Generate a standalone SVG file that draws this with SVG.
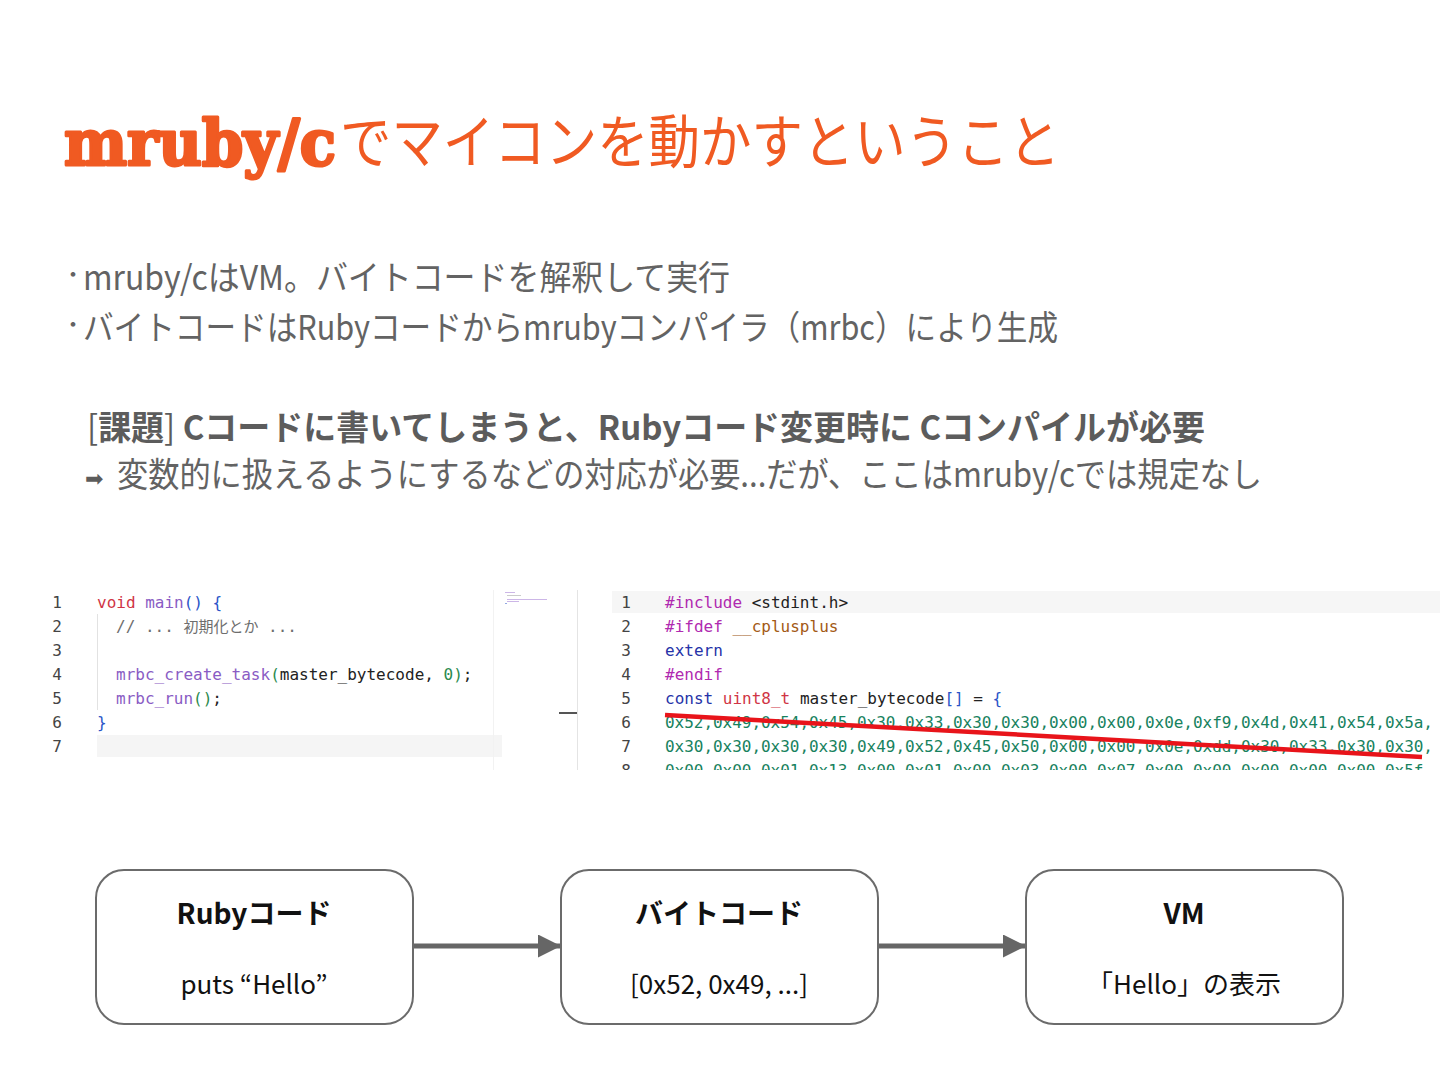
<svg xmlns="http://www.w3.org/2000/svg" width="1440" height="1080" viewBox="0 0 1440 1080">
<defs>
<style>
.jp{font-family:"Noto Sans CJK JP","Noto Sans",sans-serif}
.body{fill:#636363;font-size:34px}
.bul{fill:#636363;font-size:22px;text-anchor:middle}
.mono{font-family:"DejaVu Sans Mono","Liberation Mono",monospace;font-size:16px}
.ln{fill:#444;text-anchor:middle}
.box{fill:#fff;stroke:#6b6b6b;stroke-width:2}
.bt{font-family:"Noto Sans CJK JP","Noto Sans",sans-serif;font-size:28px;font-weight:bold;fill:#111;text-anchor:middle}
.bs{font-family:"Noto Sans CJK JP","Noto Sans",sans-serif;font-size:26px;fill:#111;text-anchor:middle}
.kw{fill:#d03545}.fn{fill:#8a5cc4}.br{fill:#2a55c8}.gr{fill:#2b8a4e}.cm{fill:#6e6e6e}.tx{fill:#222}
.pp{fill:#b02ab0}.mac{fill:#a35a16}.ex{fill:#2633a8}.hex{fill:#17825e}
.conn{stroke:#666;stroke-width:5;fill:none}
</style>
<marker id="ah" viewBox="0 0 10 10" refX="10" refY="5" markerWidth="6.2" markerHeight="4.6" markerUnits="strokeWidth" orient="auto">
<path d="M0,0 L10,5 L0,10 Z" fill="#666"/>
</marker>
<clipPath id="rc"><rect x="600" y="585" width="840" height="185"/></clipPath>
</defs>
<rect width="1440" height="1080" fill="#fff"/>

<g id="title">
<text x="64" y="165" font-family="DejaVu Serif" font-weight="bold" font-size="64" fill="#f05a22" stroke="#f05a22" stroke-width="3" stroke-linejoin="round" textLength="272" lengthAdjust="spacingAndGlyphs">mruby/c</text>
<text x="340" y="163" class="jp" font-size="58" fill="#f05a22" textLength="720" lengthAdjust="spacingAndGlyphs">でマイコンを動かすということ</text>
</g>

<g id="bullets">
<text x="73" y="282" class="jp bul">・</text>
<text x="83" y="290" class="jp body" textLength="647" lengthAdjust="spacingAndGlyphs">mruby/cはVM。バイトコードを解釈して実行</text>
<text x="73" y="332" class="jp bul">・</text>
<text x="83" y="340" class="jp body" textLength="975" lengthAdjust="spacingAndGlyphs">バイトコードはRubyコードからmrubyコンパイラ（mrbc）により生成</text>
<text x="87" y="440" class="jp" font-size="34" fill="#5c5c5c" textLength="1118" lengthAdjust="spacingAndGlyphs"><tspan font-weight="normal">[</tspan><tspan font-weight="bold">課題</tspan><tspan font-weight="normal">] </tspan><tspan font-weight="bold">Cコードに書いてしまうと、Rubyコード変更時に Cコンパイルが必要</tspan></text>
<text x="85" y="486" font-family="DejaVu Sans" font-size="22" fill="#5c5c5c">➡</text>
<text x="117" y="487" class="jp body" textLength="1145" lengthAdjust="spacingAndGlyphs">変数的に扱えるようにするなどの対応が必要...だが、ここはmruby/cでは規定なし</text>
</g>

<g id="code-left">
<rect x="97" y="735" width="405" height="22" fill="#f5f5f5"/>
<line x1="97.5" y1="614" x2="97.5" y2="710" stroke="#e2e2e2" stroke-width="1"/>
<line x1="493.5" y1="590" x2="493.5" y2="770" stroke="#f2f2f2" stroke-width="1"/>
<line x1="577.5" y1="590" x2="577.5" y2="770" stroke="#e4e4e4" stroke-width="1"/>
<rect x="559" y="712" width="18" height="2" fill="#555"/>
<g opacity="0.5">
<rect x="505" y="592" width="10" height="1" fill="#9b6fd0"/>
<rect x="507" y="595" width="14" height="1" fill="#999"/>
<rect x="507" y="599" width="40" height="1" fill="#9b6fd0"/>
<rect x="507" y="601" width="12" height="1" fill="#9b6fd0"/>
<rect x="505" y="603" width="2" height="1" fill="#2a55c8"/>
</g>
<g class="mono">
<text class="ln" x="57" y="608">1</text>
<text class="ln" x="57" y="632">2</text>
<text class="ln" x="57" y="656">3</text>
<text class="ln" x="57" y="680">4</text>
<text class="ln" x="57" y="704">5</text>
<text class="ln" x="57" y="728">6</text>
<text class="ln" x="57" y="752">7</text>
<text x="97" y="608"><tspan class="kw">void</tspan><tspan class="tx"> </tspan><tspan class="fn">main</tspan><tspan class="br">()</tspan><tspan class="tx"> </tspan><tspan class="br">{</tspan></text>
<text x="116" y="632" class="cm">// ... <tspan font-family="Noto Sans CJK JP" font-size="15">初期化とか</tspan> ...</text>
<text x="116" y="680"><tspan class="fn">mrbc_create_task</tspan><tspan class="gr">(</tspan><tspan class="tx">master_bytecode, </tspan><tspan class="gr">0</tspan><tspan class="gr">)</tspan><tspan class="tx">;</tspan></text>
<text x="116" y="704"><tspan class="fn">mrbc_run</tspan><tspan class="gr">()</tspan><tspan class="tx">;</tspan></text>
<text x="97" y="728" class="br">}</text>
</g>
</g>

<g id="code-right">
<rect x="612" y="591" width="828" height="22" fill="#f6f6f6"/>
<g class="mono" clip-path="url(#rc)">
<text class="ln" x="626" y="608">1</text>
<text class="ln" x="626" y="632">2</text>
<text class="ln" x="626" y="656">3</text>
<text class="ln" x="626" y="680">4</text>
<text class="ln" x="626" y="704">5</text>
<text class="ln" x="626" y="728">6</text>
<text class="ln" x="626" y="752">7</text>
<text class="ln" x="626" y="776">8</text>
<text x="665" y="608"><tspan class="pp">#include</tspan><tspan class="tx"> &lt;stdint.h&gt;</tspan></text>
<text x="665" y="632"><tspan class="pp">#ifdef</tspan><tspan class="tx"> </tspan><tspan class="mac">__cplusplus</tspan></text>
<text x="665" y="656" class="ex">extern</text>
<text x="665" y="680" class="pp">#endif</text>
<text x="665" y="704"><tspan class="ex">const</tspan><tspan class="tx"> </tspan><tspan class="kw">uint8_t</tspan><tspan class="tx"> master_bytecode</tspan><tspan class="br">[]</tspan><tspan class="tx"> = </tspan><tspan class="br">{</tspan></text>
<text x="665" y="728" class="hex" textLength="768">0x52,0x49,0x54,0x45,0x30,0x33,0x30,0x30,0x00,0x00,0x0e,0xf9,0x4d,0x41,0x54,0x5a,</text>
<text x="665" y="752" class="hex" textLength="768">0x30,0x30,0x30,0x30,0x49,0x52,0x45,0x50,0x00,0x00,0x0e,0xdd,0x30,0x33,0x30,0x30,</text>
<text x="665" y="776" class="hex" textLength="768">0x00,0x00,0x01,0x13,0x00,0x01,0x00,0x03,0x00,0x07,0x00,0x00,0x00,0x00,0x00,0x5f,</text>
</g>
<line x1="665" y1="715" x2="1422" y2="757" stroke="#e8141a" stroke-width="4.5"/>
</g>

<g id="connectors">
<line class="conn" x1="414" y1="946" x2="561" y2="946" marker-end="url(#ah)"/>
<line class="conn" x1="879" y1="946" x2="1026" y2="946" marker-end="url(#ah)"/>
</g>

<g id="node-ruby">
<rect class="box" x="96" y="870" width="317" height="154" rx="28"/>
<text class="bt" x="254" y="924">Rubyコード</text>
<text class="bs" x="254" y="994">puts  “Hello”</text>
</g>
<g id="node-bytecode">
<rect class="box" x="561" y="870" width="317" height="154" rx="28"/>
<text class="bt" x="719" y="924">バイトコード</text>
<text class="bs" x="719" y="994">[0x52, 0x49, ...]</text>
</g>
<g id="node-vm">
<rect class="box" x="1026" y="870" width="317" height="154" rx="28"/>
<text class="bt" x="1184" y="924">VM</text>
<text class="bs" x="1184" y="994">「Hello」の表示</text>
</g>
</svg>
